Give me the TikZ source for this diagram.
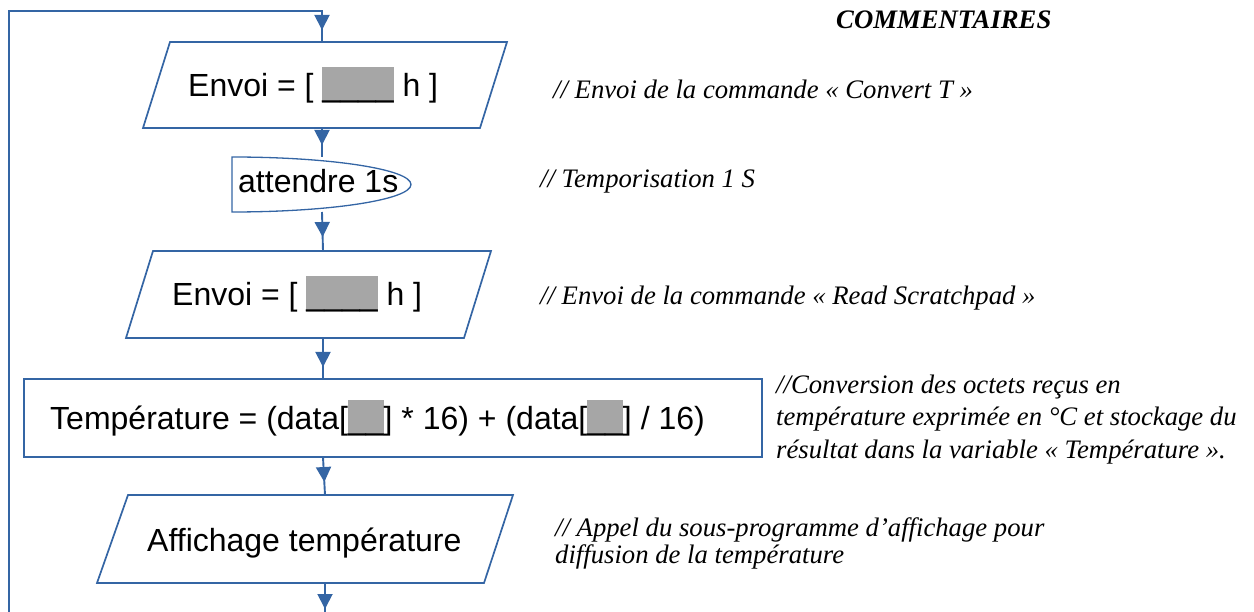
\documentclass[tikz,border=0pt]{standalone}
\usepackage{fontspec}
\setmainfont{Liberation Serif}
\newfontfamily\flowfont{Liberation Sans}
\usetikzlibrary{arrows.meta,decorations.markings}
\definecolor{flowblue}{RGB}{52,101,164}
\definecolor{boxgray}{RGB}{166,166,166}
\newcommand\graybox[1]{{\setlength\fboxsep{0pt}\colorbox{boxgray}{\rule[-0.12em]{0pt}{1.05em}#1}}}
\begin{document}
\begin{tikzpicture}[x=1pt,y=-1pt,
  shapeline/.style={draw=flowblue,line width=1.7pt,line join=miter},
  flow/.style={draw=flowblue,line width=1.9pt,postaction={decorate},
    decoration={markings,mark=at position #1 with {\arrow[flowblue]{Triangle[length=15pt,width=15pt]}}}},
  flow/.default=-12pt,
  maintext/.style={font=\flowfont\fontsize{32}{38}\selectfont,inner sep=0pt,anchor=base west},
  comment/.style={font=\fontsize{26.7}{32}\selectfont\itshape,inner sep=0pt,anchor=base west},
]
\useasboundingbox (0,0) rectangle (1254,612);

% shapes
\draw[shapeline] (170,42) -- (507,42) -- (480,128) -- (143,128) -- cycle;
\node[maintext] (t1) at (188,97) {Envoi = [ \graybox{\_\_\_\_} h ]};
\coordinate (p1top) at (322,42);
\coordinate (p1bot) at (322,128);

\draw[shapeline,line width=1.3pt] (232,157) arc[start angle=90,end angle=-90,x radius=179pt,y radius=27.5pt] -- cycle;
\node[maintext] (t2) at (238,193) {attendre 1s};
\coordinate (d1top) at (322,157);
\coordinate (d1bot) at (322,212);

\draw[shapeline] (153,251) -- (491,251) -- (464,338) -- (126,338) -- cycle;
\node[maintext] (t3) at (172,306) {Envoi = [ \graybox{\_\_\_\_} h ]};
\coordinate (p2top) at (323,251);
\coordinate (p2bot) at (323,338);

\draw[shapeline] (24,379) rectangle (762,457);
\node[maintext] (t4) at (50,430) {Température = (data[\graybox{\_\_}] * 16) + (data[\graybox{\_\_}] / 16)};
\coordinate (rtop) at (323,379);
\coordinate (rbot) at (323,457);

\draw[shapeline] (128,495) -- (513,495) -- (484,583) -- (97,583) -- cycle;
\node[maintext] (t5) at (147,551) {Affichage température};
\coordinate (p3top) at (325,495);
\coordinate (p3bot) at (325,583);
\coordinate (exit) at (325,612);

% loop
\coordinate (loopstart) at (9,612);
\coordinate (lc1) at (9,11);
\coordinate (lc2) at (322,11);

% connectors
\draw[flow] (loopstart) -- (lc1) -- (lc2) -- (p1top);
\draw[flow] (p1bot) -- (d1top);
\draw[flow=-14pt] (d1bot) -- (p2top);
\draw[flow] (p2bot) -- (rtop);
\draw[flow=-13pt] (rbot) -- (p3top);
\draw[flow=-3pt] (p3bot) -- (exit);

% comments
\node[comment,font=\fontsize{26.7}{32}\selectfont\bfseries\itshape] (ctitle) at (836,29) {COMMENTAIRES};
\node[comment] (c1) at (553,99) {// Envoi de la commande « Convert T »};
\node[comment] (c2) at (540,188) {// Temporisation 1 S};
\node[comment] (c3) at (540,305) {// Envoi de la commande « Read Scratchpad »};
\node[comment] (c4a) at (776,394) {//Conversion des octets reçus en};
\node[comment] (c4b) at (776,426) {température exprimée en °C et stockage du};
\node[comment] (c4c) at (776,458) {résultat dans la variable « Température ».};
\node[comment] (c5a) at (555,536) {// Appel du sous-programme d’affichage pour};
\node[comment] (c5b) at (555,563) {diffusion de la température};
\end{tikzpicture}
\end{document}
